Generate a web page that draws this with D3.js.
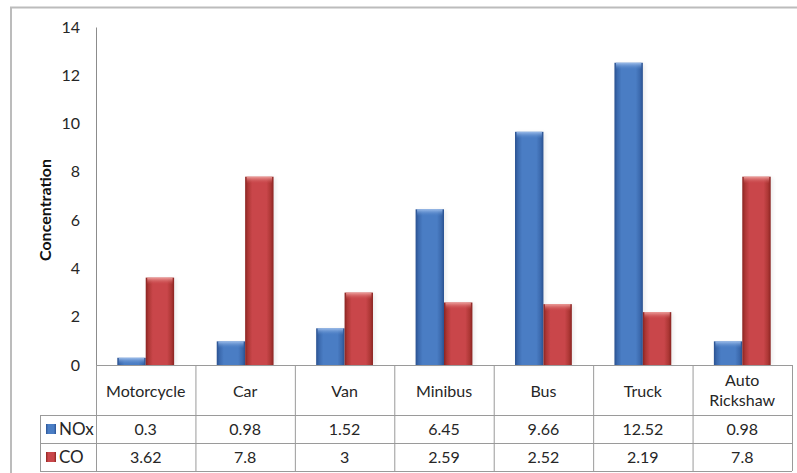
<!DOCTYPE html>
<html>
<head>
<meta charset="utf-8">
<script src="https://cdn.jsdelivr.net/npm/d3@7"></script>
<style>
  html, body { margin: 0; padding: 0; background: #fff; }
  svg { display: block; font-family: Lato, "Open Sans", sans-serif; }
</style>
</head>
<body>
<svg id="chart" width="797" height="473"></svg>
<script>
// Vehicle categories and emission concentrations
const categories = ["Motorcycle", "Car", "Van", "Minibus", "Bus", "Truck", "Auto Rickshaw"];
const seriesNames = ["NOx", "CO"];
const noxValues = [0.3, 0.98, 1.52, 6.45, 9.66, 12.52, 0.98];
const coValues = [3.62, 7.8, 3, 2.59, 2.52, 2.19, 7.8];
const yTicks = [0, 2, 4, 6, 8, 10, 12, 14];
const yTitle = "Concentration";

const svg = d3.select("#chart");
const W = 797, H = 473;

const plot = { left: 96, right: 792, top: 27, bottom: 365 };
const rows = { header: 415, nox: 443, co: 471 };
const legendLeft = 40;
const textCol = "#262626";

const colors = {
  NOx: { dark: "#2a5190", mid: "#3b69ad", main: "#4a7dc4", light: "#9dbdea" },
  CO:  { dark: "#8a2422", mid: "#ad3735", main: "#c9464a", light: "#eda09c" }
};

// Outer chart frame
svg.append("rect")
  .attr("x", 11).attr("y", 7.5)
  .attr("width", W + 20).attr("height", H + 20)
  .attr("fill", "#fff").attr("stroke", "#bcbcbc").attr("stroke-width", 2);

// Gradients for bevelled bars
const defs = svg.append("defs");
seriesNames.forEach(s => {
  const c = colors[s];
  const g = defs.append("linearGradient").attr("id", "bar-" + s)
    .attr("x1", "0%").attr("x2", "100%").attr("y1", "0%").attr("y2", "0%");
  [[0, c.dark], [0.1, c.mid], [0.25, c.main], [0.75, c.main], [0.9, c.mid], [1, c.dark]]
    .forEach(([o, col]) => g.append("stop").attr("offset", o).attr("stop-color", col));
  const t = defs.append("linearGradient").attr("id", "cap-" + s)
    .attr("x1", "0%").attr("x2", "0%").attr("y1", "0%").attr("y2", "100%");
  t.append("stop").attr("offset", 0).attr("stop-color", c.light).attr("stop-opacity", 1);
  t.append("stop").attr("offset", 1).attr("stop-color", c.main).attr("stop-opacity", 0);
});
defs.append("filter").attr("id", "soft").attr("x", "-20%").attr("width", "140%")
  .append("feGaussianBlur").attr("stdDeviation", 2);

const x = d3.scaleBand().domain(categories).range([plot.left, plot.right]).padding(0);
const xs = d3.scaleBand().domain(seriesNames).range([0, x.bandwidth()]).paddingInner(0).paddingOuter(0.75);
const y = d3.scaleLinear().domain([0, 14]).range([plot.bottom, plot.top]);

// Y axis
const yAxis = d3.axisLeft(y).tickValues(yTicks).tickSize(0).tickPadding(16).tickFormat(d3.format("d"));
const ya = svg.append("g").attr("transform", `translate(${plot.left},0)`).call(yAxis);
ya.select(".domain").attr("stroke", "#8c8c8c").attr("stroke-width", 1);
ya.selectAll("text").attr("font-size", 16).attr("fill", textCol).attr("font-family", "Lato, sans-serif");

svg.append("text")
  .attr("transform", `translate(51,210) rotate(-90)`)
  .attr("text-anchor", "middle")
  .attr("font-size", 16).attr("font-weight", "bold").attr("fill", "#111")
  .text(yTitle);

// Bars
const data = categories.map((c, i) => ({ cat: c, NOx: noxValues[i], CO: coValues[i] }));
const groups = svg.append("g").selectAll("g").data(data).join("g")
  .attr("transform", d => `translate(${x(d.cat)},0)`);
seriesNames.forEach(s => {
  const bw = xs.bandwidth();
  // faint glow behind each bar
  groups.append("rect")
    .attr("x", xs(s) + 2).attr("y", d => y(d[s]) + 1)
    .attr("width", bw).attr("height", d => y(0) - y(d[s]) - 1)
    .attr("fill", "#000").attr("opacity", 0.08).attr("filter", "url(#soft)");
});
seriesNames.forEach(s => {
  const bw = xs.bandwidth();
  groups.append("rect")
    .attr("x", xs(s)).attr("y", d => y(d[s]))
    .attr("width", bw).attr("height", d => y(0) - y(d[s]))
    .attr("fill", `url(#bar-${s})`);
  groups.append("rect")
    .attr("x", xs(s) + 1.5).attr("y", d => y(d[s]))
    .attr("width", bw - 3).attr("height", d => Math.min(7, y(0) - y(d[s])))
    .attr("fill", `url(#cap-${s})`);
});

// Data table
const lineCol = "#9a9a9a";
const tbl = svg.append("g");
tbl.append("line").attr("x1", plot.left).attr("x2", plot.right)
  .attr("y1", plot.bottom + 0.5).attr("y2", plot.bottom + 0.5).attr("stroke", lineCol);
[rows.header, rows.nox, rows.co].forEach(yy => {
  tbl.append("line").attr("x1", legendLeft).attr("x2", plot.right)
    .attr("y1", yy + 0.5).attr("y2", yy + 0.5).attr("stroke", lineCol);
});
tbl.append("line").attr("x1", legendLeft + 0.5).attr("x2", legendLeft + 0.5)
  .attr("y1", rows.header).attr("y2", rows.co).attr("stroke", lineCol);
categories.concat([null]).forEach(c => {
  const xx = c ? x(c) : plot.right;
  tbl.append("line").attr("x1", xx + 0.5).attr("x2", xx + 0.5)
    .attr("y1", plot.bottom).attr("y2", rows.co).attr("stroke", lineCol);
});

// Category names
tbl.selectAll("text.hdr").data(categories).join("text")
  .attr("class", "hdr")
  .attr("text-anchor", "middle").attr("font-size", 16).attr("fill", textCol)
  .each(function (d) {
    const words = d.split(" ");
    const t = d3.select(this);
    const cx = x(d) + x.bandwidth() / 2;
    if (words.length === 1) {
      t.append("tspan").attr("x", cx).attr("y", 397).text(d);
    } else {
      words.forEach((w, k) => t.append("tspan").attr("x", cx).attr("y", 386 + k * 20).text(w));
    }
  });

// Value rows with legend keys
const rowDefs = [
  { name: "NOx", vals: noxValues, cy: 429 },
  { name: "CO", vals: coValues, cy: 457 }
];
rowDefs.forEach(r => {
  tbl.selectAll(null).data(categories).join("text")
    .attr("x", d => x(d) + x.bandwidth() / 2)
    .attr("y", r.cy + 5.5)
    .attr("text-anchor", "middle").attr("font-size", 16).attr("fill", textCol)
    .text((d, i) => r.vals[i]);
  tbl.append("rect").attr("x", 46).attr("y", r.cy - 5).attr("width", 10).attr("height", 10)
    .attr("fill", `url(#bar-${r.name})`);
  tbl.append("text").attr("x", 59).attr("y", r.cy + 6)
    .attr("font-size", 17).attr("fill", textCol).text(r.name);
});
</script>
</body>
</html>
